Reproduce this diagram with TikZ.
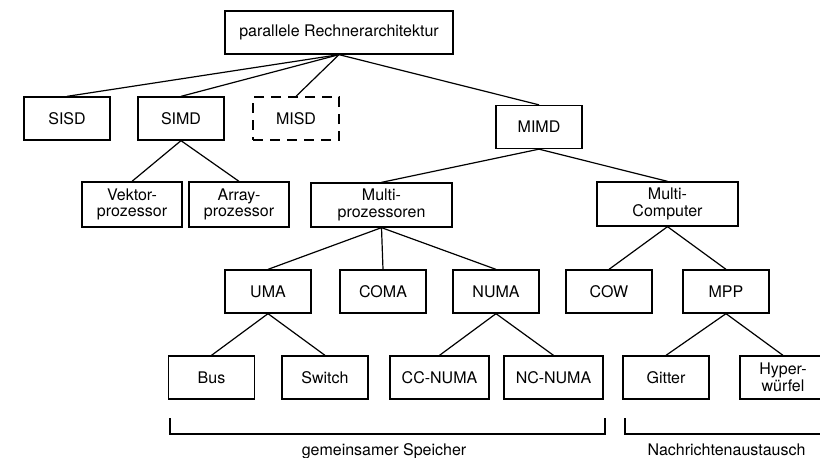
\documentclass[tikz,border=0pt]{standalone}
\usepackage{fontspec}
\setmainfont{TeX Gyre Heros}
\begin{document}
\begin{tikzpicture}[x=1pt,y=-1pt,
  every node/.style={font=\fontsize{16}{16.5}\selectfont},
  box/.style={draw,line width=1.3pt,inner sep=0pt,align=center,minimum width=86pt,minimum height=43pt},
  dbox/.style={box,dash pattern=on 10pt off 7pt},
  conn/.style={line width=1.2pt},
  brk/.style={line width=1.2pt}]
\useasboundingbox (0,0) rectangle (820,458);
\node[box,minimum width=228pt] (root) at (339,32.5) {parallele Rechnerarchitektur};
\node[box] (sisd) at (67,118.5) {SISD};
\node[box] (simd) at (181,118.5) {SIMD};
\node[dbox] (misd) at (296,118.5) {MISD};
\node[box] (mimd) at (539,127) {MIMD};
\node[box,minimum width=100pt,minimum height=45pt] (vek) at (132,204.5) {Vektor-\\prozessor};
\node[box,minimum width=100pt,minimum height=45pt] (arr) at (239,204.5) {Array-\\prozessor};
\node[box,minimum width=141pt,minimum height=44pt] (mp) at (381.5,205) {Multi-\\prozessoren};
\node[box,minimum width=141pt,minimum height=44pt] (mc) at (667.5,204) {Multi-\\Computer};
\node[box] (uma) at (268,291.5) {UMA};
\node[box] (coma) at (383,291.5) {COMA};
\node[box] (numa) at (496,291.5) {NUMA};
\node[box] (cow) at (609,291.5) {COW};
\node[box] (mpp) at (726,291.5) {MPP};
\node[box] (bus) at (211.5,377.5) {Bus};
\node[box] (sw) at (325,377.5) {Switch};
\node[box,minimum width=99pt] (cc) at (439.5,377.5) {CC-NUMA};
\node[box,minimum width=99pt] (nc) at (553.5,377.5) {NC-NUMA};
\node[box] (git) at (666,377.5) {Gitter};
\node[box] (hyp) at (783,377.5) {Hyper-\\würfel};
\foreach \a/\b in {root/sisd,root/simd,root/misd,root/mimd,simd/vek,simd/arr,mimd/mp,mimd/mc,mp/uma,mp/coma,mp/numa,mc/cow,mc/mpp,uma/bus,uma/sw,numa/cc,numa/nc,mpp/git,mpp/hyp}
  \draw[conn] (\a.south) -- (\b.north);
\coordinate (b1a) at (170,418);
\coordinate (b1b) at (605,418);
\coordinate (b2a) at (625,418);
\coordinate (b2b) at (826,418);
\draw[brk] (b1a) -- ++(0,16) -| (b1b);
\draw[brk] (b2a) -- ++(0,16) -| (b2b);
\node[anchor=base] (l1) at (384,455) {gemeinsamer Speicher};
\node[anchor=base] (l2) at (726.5,455) {Nachrichtenaustausch};
\end{tikzpicture}
\end{document}
